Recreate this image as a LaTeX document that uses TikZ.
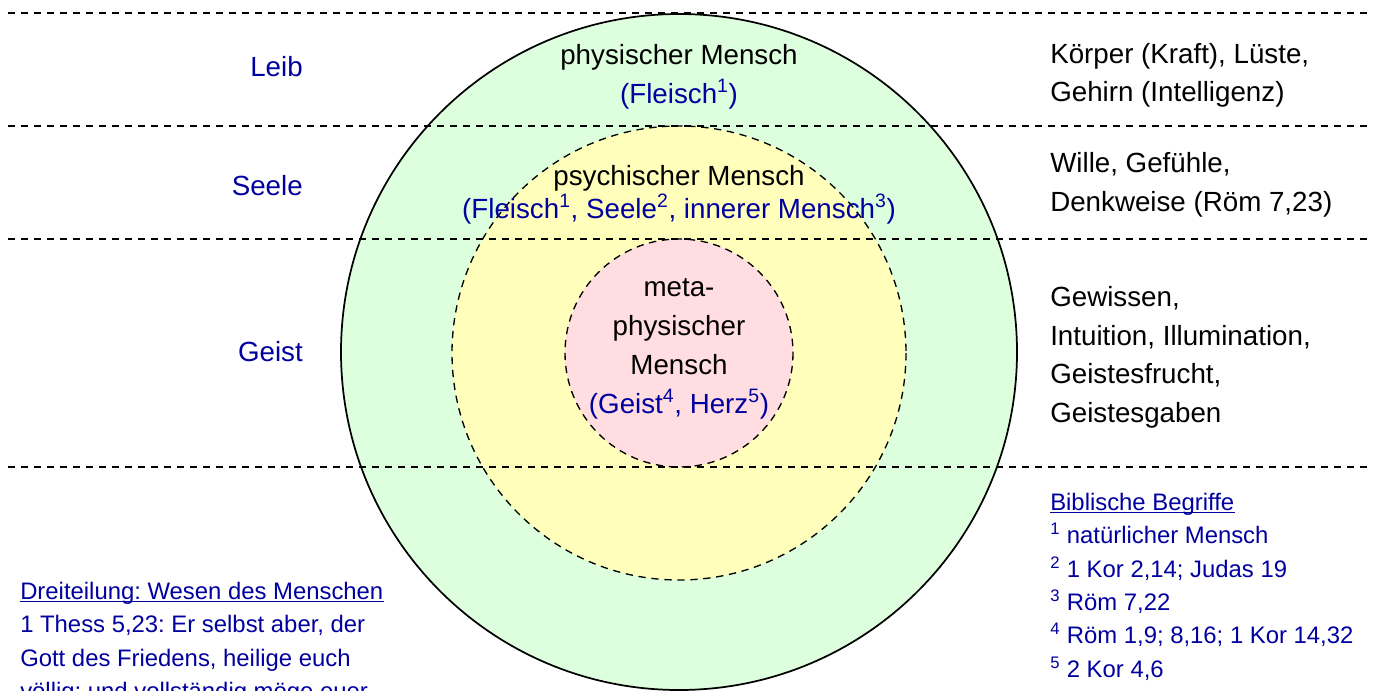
\documentclass[tikz,border=0pt]{standalone}
\usepackage{fontspec}
\setmainfont{Liberation Sans}
\usetikzlibrary{positioning}
\frenchspacing

\definecolor{bibblue}{RGB}{0,0,160}
\definecolor{leibgreen}{RGB}{221,255,221}
\definecolor{seeleyellow}{RGB}{255,255,187}
\definecolor{geistpink}{RGB}{255,221,225}

\newcommand{\bigfont}{\fontsize{20.8}{28.9}\selectfont}
\newcommand{\smallfont}{\fontsize{17.9}{25.1}\selectfont}

\begin{document}
\begin{tikzpicture}[x=0.75pt, y=-0.75pt,
    every node/.style={inner sep=0pt},
    sep/.style={dash pattern=on 5.5pt off 4.25pt, line width=1pt},
    blk/.style={font=\bigfont, text=black, anchor=base},
    blu/.style={font=\bigfont, text=bibblue, anchor=base},
    side/.style={font=\bigfont, text=black, anchor=base west},
    note/.style={font=\smallfont, text=bibblue, anchor=base west},
    uline/.style={bibblue, line width=0.8pt}]
    \useasboundingbox (0,0) rectangle (1375,690);
    \clip (0,0) rectangle (1375,690);

    % Draw the circles
    \draw[fill=leibgreen, line width=1.3pt] (679,352) circle (338);
    \draw[fill=seeleyellow, sep] (679,353) circle (227);
    \draw[fill=geistpink, sep] (679,353) circle (114);

    % Draw the separating lines
    \foreach \y in {13,126,239,467}
        \draw[sep] (8,\y) -- (1368,\y);

    % Labels on the left
    \node[blu, anchor=base east] (leib) at (303,76) {Leib};
    \node[blu, anchor=base east] (seele) at (303,195) {Seele};
    \node[blu, anchor=base east] (geist) at (303,361) {Geist};

    % Labels inside the circles
    \node[blk] (phys) at (679,64) {physischer Mensch};
    \node[blu] (physb) at (679,103) {(Fleisch\textsuperscript{1})};

    \node[blk] (psych) at (679,185) {psychischer Mensch};
    \node[blu] (psychb) at (679,218) {(Fleisch\textsuperscript{1}, Seele\textsuperscript{2}, innerer Mensch\textsuperscript{3})};

    \node[blk] (meta) at (679,296) {meta-};
    \node[blk] (metb) at (679,335) {physischer};
    \node[blk] (metc) at (679,374) {Mensch};
    \node[blu] (metd) at (679,413) {(Geist\textsuperscript{4}, Herz\textsuperscript{5})};

    % Right column
    \node[side] (koerper) at (1050,63) {Körper (Kraft), Lüste,};
    \node[side] (gehirn) at (1050,101.5) {Gehirn (Intelligenz)};
    \node[side] (wille) at (1050,172) {Wille, Gefühle,};
    \node[side] (denk) at (1050,211) {Denkweise (Röm 7,23)};
    \node[side] (gewissen) at (1050,306) {Gewissen,};
    \node[side] (intuition) at (1050,345) {Intuition, Illumination,};
    \node[side] (frucht) at (1050,383) {Geistesfrucht,};
    \node[side] (gaben) at (1050,422) {Geistesgaben};

    % Biblische Begriffe
    \node[note] (begriffe) at (1050,510) {Biblische Begriffe};
    \draw[uline] ([yshift=-2pt]begriffe.base west) -- ([yshift=-2pt]begriffe.base east);
    \node[note] (bega) at (1050,543) {\textsuperscript{1} natürlicher Mensch};
    \node[note] (begb) at (1050,577) {\textsuperscript{2} 1 Kor 2,14; Judas 19};
    \node[note] (begc) at (1050,610) {\textsuperscript{3} Röm 7,22};
    \node[note] (begd) at (1050,643) {\textsuperscript{4} Röm 1,9; 8,16; 1 Kor 14,32};
    \node[note] (bege) at (1050,677) {\textsuperscript{5} 2 Kor 4,6};

    % Dreiteilung
    \node[note] (dreit) at (20,599) {Dreiteilung: Wesen des Menschen};
    \draw[uline] ([yshift=-2pt]dreit.base west) -- ([yshift=-2pt]dreit.base east);
    \node[note] (thessa) at (20,632.5) {1 Thess 5,23: Er selbst aber, der};
    \node[note] (thessb) at (20,666) {Gott des Friedens, heilige euch};
    \node[note] (thessc) at (20,699.5) {völlig; und vollständig möge euer};

\end{tikzpicture}
\end{document}
